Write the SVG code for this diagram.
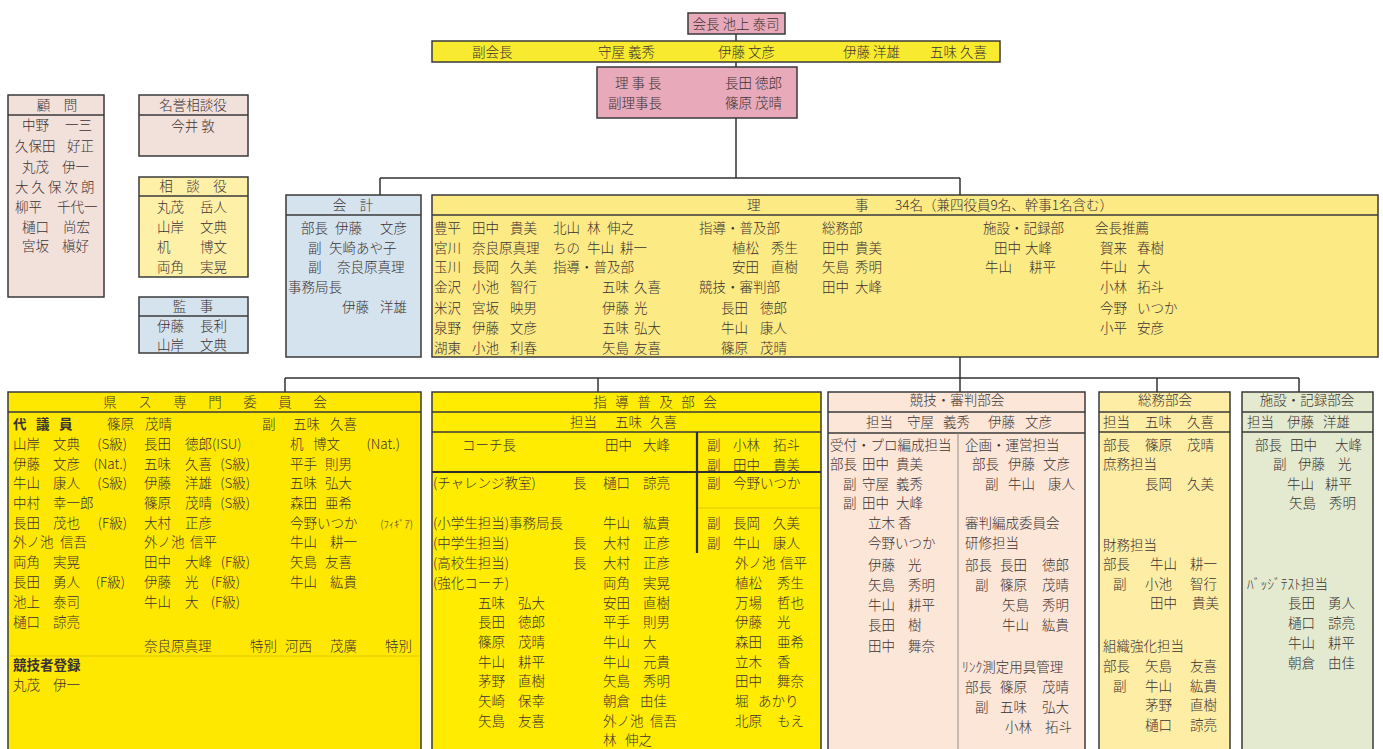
<svg xmlns="http://www.w3.org/2000/svg" width="1383" height="749" viewBox="0 0 1383 749">
<defs>
<style>
.t{font-family:"Noto Sans CJK JP","Noto Sans CJK SC",sans-serif;font-size:13.5px;font-weight:300;fill:#3b3232}
.c{text-anchor:middle}
.e{text-anchor:end}
.b{font-weight:bold}
.s{font-size:10.5px}
.box{stroke:#3a3a3a;stroke-width:1.5}
.ln{stroke:#3a3a3a;stroke-width:1.5;fill:none}
.thk{stroke:#2e2e2e;stroke-width:2.2;fill:none}
.fl{stroke:#c9b400;stroke-width:1;fill:none;opacity:.6}
.vd{stroke:#9a8c84;stroke-width:1;fill:none}
.conn{stroke:#333;stroke-width:1.5;fill:none}
</style>
</defs>
<rect width="1383" height="749" fill="#ffffff"/>

<g id="connectors" class="conn">
<path d="M736 34 V41 M736 62 V67 M736 118 V178 M380 178 H960 M380 178 V195 M960 178 V195 M960 357 V378 M285 378 H1299 M285 378 V392 M598 378 V392 M960 378 V392 M1157 378 V392 M1299 378 V392"/>
</g>

<g id="kaicho">
<rect class="box" x="688" y="13" width="97" height="21" fill="#E8A9BA"/>
<text class="t c" x="736" y="29">会長 池上 泰司</text>
</g>

<g id="fukukaicho">
<rect class="box" x="432" y="41" width="568" height="21" fill="#F8EA2E"/>
<text class="t" y="57"><tspan x="472">副会長</tspan><tspan x="598">守屋 義秀</tspan><tspan x="718">伊藤 文彦</tspan><tspan x="843">伊藤 洋雄</tspan><tspan x="930">五味 久喜</tspan></text>
</g>

<g id="rijicho">
<rect class="box" x="597" y="67" width="200" height="51" fill="#E8A9BA"/>
<text class="t" y="88"><tspan x="615">理 事 長</tspan><tspan x="725">長田 徳郎</tspan></text>
<text class="t" y="108"><tspan x="608">副理事長</tspan><tspan x="725">篠原 茂晴</tspan></text>
</g>

<g id="komon">
<rect class="box" x="8" y="95" width="96" height="202" fill="#F2E0DA"/>
<line class="ln" x1="8" y1="115" x2="104" y2="115"/>
<text class="t c" x="57" y="110">顧　問</text>
<text class="t" y="130"><tspan x="22">中野</tspan><tspan x="65">一三</tspan></text>
<text class="t" y="151"><tspan x="15">久保田</tspan><tspan x="67">好正</tspan></text>
<text class="t" y="172"><tspan x="22">丸茂</tspan><tspan x="62">伊一</tspan></text>
<text class="t" y="192" x="15" letter-spacing="3">大久保次朗</text>
<text class="t" y="212"><tspan x="15">柳平</tspan><tspan x="57">千代一</tspan></text>
<text class="t" y="232"><tspan x="22">樋口</tspan><tspan x="63">尚宏</tspan></text>
<text class="t" y="251"><tspan x="22">宮坂</tspan><tspan x="62">槇好</tspan></text>
</g>

<g id="meiyo">
<rect class="box" x="139" y="95" width="109" height="61" fill="#F2E0DA"/>
<line class="ln" x1="139" y1="115" x2="248" y2="115"/>
<text class="t c" x="193" y="110">名誉相談役</text>
<text class="t c" x="193" y="131">今井 敦</text>
</g>

<g id="sodanyaku">
<rect class="box" x="139" y="177" width="109" height="100" fill="#FFF0A8"/>
<line class="ln" x1="139" y1="196" x2="248" y2="196"/>
<text class="t c" x="193" y="191">相　談　役</text>
<text class="t" y="212"><tspan x="157">丸茂</tspan><tspan x="200">岳人</tspan></text>
<text class="t" y="232"><tspan x="157">山岸</tspan><tspan x="200">文典</tspan></text>
<text class="t" y="252"><tspan x="157">机</tspan><tspan x="200">博文</tspan></text>
<text class="t" y="272"><tspan x="157">両角</tspan><tspan x="200">実晃</tspan></text>
</g>

<g id="kanji">
<rect class="box" x="139" y="297" width="109" height="56" fill="#D5E3EE"/>
<line class="ln" x1="139" y1="316" x2="248" y2="316"/>
<text class="t c" x="193" y="311">監　事</text>
<text class="t" y="331"><tspan x="157">伊藤</tspan><tspan x="200">長利</tspan></text>
<text class="t" y="350"><tspan x="157">山岸</tspan><tspan x="200">文典</tspan></text>
</g>

<g id="kaikei">
<rect class="box" x="286" y="195" width="135" height="162" fill="#D5E3EE"/>
<line class="ln" x1="286" y1="215" x2="421" y2="215"/>
<text class="t c" x="353" y="210">会　計</text>
<text class="t" y="233"><tspan x="301">部長</tspan><tspan x="335">伊藤</tspan><tspan x="380">文彦</tspan></text>
<text class="t" y="253"><tspan x="308">副</tspan><tspan x="329">矢崎あや子</tspan></text>
<text class="t" y="272"><tspan x="308">副</tspan><tspan x="337">奈良原真理</tspan></text>
<text class="t" y="292" x="288">事務局長</text>
<text class="t" y="312"><tspan x="342">伊藤</tspan><tspan x="380">洋雄</tspan></text>
</g>

<g id="riji">
<rect class="box" x="432" y="195" width="946" height="162" fill="#FCEA85"/>
<line class="ln" x1="432" y1="215" x2="1378" y2="215"/>
<text class="t" y="210"><tspan x="747">理</tspan><tspan x="855">事</tspan><tspan x="895">34名（兼四役員9名、幹事1名含む）</tspan></text>
<text class="t" y="233"><tspan x="434">豊平</tspan><tspan x="472">田中</tspan><tspan x="510">貴美</tspan><tspan x="553">北山</tspan><tspan x="587">林</tspan><tspan x="607">伸之</tspan><tspan x="699">指導・普及部</tspan><tspan x="822">総務部</tspan><tspan x="983">施設・記録部</tspan><tspan x="1095">会長推薦</tspan></text>
<text class="t" y="253"><tspan x="434">宮川</tspan><tspan x="472">奈良原真理</tspan><tspan x="553">ちの</tspan><tspan x="587">牛山</tspan><tspan x="620">耕一</tspan><tspan x="732">植松</tspan><tspan x="771">秀生</tspan><tspan x="822">田中</tspan><tspan x="855">貴美</tspan><tspan x="994">田中</tspan><tspan x="1025">大峰</tspan><tspan x="1100">賀来</tspan><tspan x="1137">春樹</tspan></text>
<text class="t" y="272"><tspan x="434">玉川</tspan><tspan x="472">長岡</tspan><tspan x="510">久美</tspan><tspan x="553">指導・普及部</tspan><tspan x="732">安田</tspan><tspan x="771">直樹</tspan><tspan x="822">矢島</tspan><tspan x="855">秀明</tspan><tspan x="985">牛山</tspan><tspan x="1029">耕平</tspan><tspan x="1100">牛山</tspan><tspan x="1137">大</tspan></text>
<text class="t" y="292"><tspan x="434">金沢</tspan><tspan x="472">小池</tspan><tspan x="510">智行</tspan><tspan x="602">五味</tspan><tspan x="634">久喜</tspan><tspan x="699">競技・審判部</tspan><tspan x="822">田中</tspan><tspan x="855">大峰</tspan><tspan x="1100">小林</tspan><tspan x="1137">拓斗</tspan></text>
<text class="t" y="313"><tspan x="434">米沢</tspan><tspan x="472">宮坂</tspan><tspan x="510">映男</tspan><tspan x="602">伊藤</tspan><tspan x="634">光</tspan><tspan x="721">長田</tspan><tspan x="760">徳郎</tspan><tspan x="1100">今野</tspan><tspan x="1137">いつか</tspan></text>
<text class="t" y="333"><tspan x="434">泉野</tspan><tspan x="472">伊藤</tspan><tspan x="510">文彦</tspan><tspan x="602">五味</tspan><tspan x="634">弘大</tspan><tspan x="721">牛山</tspan><tspan x="760">康人</tspan><tspan x="1100">小平</tspan><tspan x="1137">安彦</tspan></text>
<text class="t" y="353"><tspan x="434">湖東</tspan><tspan x="472">小池</tspan><tspan x="510">利春</tspan><tspan x="602">矢島</tspan><tspan x="634">友喜</tspan><tspan x="721">篠原</tspan><tspan x="760">茂晴</tspan></text>
</g>

<g id="kensu">
<rect class="box" x="8" y="392" width="413" height="380" fill="#FFE800"/>
<line class="ln" x1="8" y1="412" x2="421" y2="412"/>
<text class="t c" y="407" x="110 145 180 215 250 285 320">県ス専門委員会</text>
<text class="t b" y="429" x="13 36 59">代議員</text>
<text class="t" y="429"><tspan x="107">篠原</tspan><tspan x="145">茂晴</tspan><tspan x="262">副</tspan><tspan x="293">五味</tspan><tspan x="330">久喜</tspan></text>
<text class="t" y="449"><tspan x="13">山岸</tspan><tspan x="53">文典</tspan><tspan x="144">長田</tspan><tspan x="185">徳郎(ISU)</tspan><tspan x="290">机</tspan><tspan x="313">博文</tspan></text>
<text class="t e" y="449"><tspan x="127">(S級)</tspan><tspan x="400">(Nat.)</tspan></text>
<text class="t" y="469"><tspan x="13">伊藤</tspan><tspan x="53">文彦</tspan><tspan x="144">五味</tspan><tspan x="185">久喜</tspan><tspan x="290">平手</tspan><tspan x="325">則男</tspan></text>
<text class="t e" y="469"><tspan x="127">(Nat.)</tspan><tspan x="250">(S級)</tspan></text>
<text class="t" y="488"><tspan x="13">牛山</tspan><tspan x="53">康人</tspan><tspan x="144">伊藤</tspan><tspan x="185">洋雄</tspan><tspan x="290">五味</tspan><tspan x="325">弘大</tspan></text>
<text class="t e" y="488"><tspan x="127">(S級)</tspan><tspan x="250">(S級)</tspan></text>
<text class="t" y="508"><tspan x="13">中村</tspan><tspan x="53">幸一郎</tspan><tspan x="144">篠原</tspan><tspan x="185">茂晴</tspan><tspan x="290">森田</tspan><tspan x="325">亜希</tspan></text>
<text class="t e" y="508" x="250">(S級)</text>
<text class="t" y="528"><tspan x="13">長田</tspan><tspan x="53">茂也</tspan><tspan x="144">大村</tspan><tspan x="185">正彦</tspan><tspan x="290">今野いつか</tspan></text>
<text class="t e" y="528" x="127">(F級)</text>
<text class="t s e" y="528" x="413">(ﾌｨｷﾞｱ)</text>
<text class="t" y="547"><tspan x="13">外ノ池</tspan><tspan x="60">信吾</tspan><tspan x="144">外ノ池</tspan><tspan x="190">信平</tspan><tspan x="290">牛山</tspan><tspan x="330">耕一</tspan></text>
<text class="t" y="567"><tspan x="13">両角</tspan><tspan x="53">実晃</tspan><tspan x="144">田中</tspan><tspan x="185">大峰</tspan><tspan x="290">矢島</tspan><tspan x="325">友喜</tspan></text>
<text class="t e" y="567" x="250">(F級)</text>
<text class="t" y="587"><tspan x="13">長田</tspan><tspan x="53">勇人</tspan><tspan x="144">伊藤</tspan><tspan x="185">光</tspan><tspan x="290">牛山</tspan><tspan x="330">紘貴</tspan></text>
<text class="t e" y="587"><tspan x="125">(F級)</tspan><tspan x="240">(F級)</tspan></text>
<text class="t" y="607"><tspan x="13">池上</tspan><tspan x="53">泰司</tspan><tspan x="144">牛山</tspan><tspan x="185">大</tspan></text>
<text class="t e" y="607" x="240">(F級)</text>
<text class="t" y="627"><tspan x="13">樋口</tspan><tspan x="53">諒亮</tspan></text>
<text class="t" y="651"><tspan x="144">奈良原真理</tspan><tspan x="250">特別</tspan><tspan x="285">河西</tspan><tspan x="330">茂廣</tspan><tspan x="385">特別</tspan></text>
<line class="fl" x1="10" y1="656" x2="419" y2="656"/>
<text class="t b" y="670" x="13">競技者登録</text>
<text class="t" y="690"><tspan x="13">丸茂</tspan><tspan x="53">伊一</tspan></text>
</g>

<g id="shido">
<rect class="box" x="432" y="392" width="389" height="380" fill="#FFEC00"/>
<line class="ln" x1="432" y1="412" x2="821" y2="412"/>
<line class="ln" x1="432" y1="432" x2="821" y2="432"/>
<line class="thk" x1="432" y1="472" x2="821" y2="472"/>
<line class="thk" x1="697" y1="432" x2="697" y2="553"/>
<line class="fl" x1="698" y1="508" x2="820" y2="508"/>
<text class="t c" y="407" x="600 622 644 666 688 710">指導普及部会</text>
<text class="t" y="427"><tspan x="570">担当</tspan><tspan x="615">五味</tspan><tspan x="650">久喜</tspan></text>
<text class="t" y="450"><tspan x="462">コーチ長</tspan><tspan x="605">田中</tspan><tspan x="643">大峰</tspan><tspan x="707">副</tspan><tspan x="733">小林</tspan><tspan x="773">拓斗</tspan></text>
<text class="t" y="470"><tspan x="707">副</tspan><tspan x="733">田中</tspan><tspan x="773">貴美</tspan></text>
<text class="t" y="488"><tspan x="433">(チャレンジ教室)</tspan><tspan x="573">長</tspan><tspan x="603">樋口</tspan><tspan x="643">諒亮</tspan><tspan x="707">副</tspan><tspan x="733">今野いつか</tspan></text>
<text class="t" y="528"><tspan x="433">(小学生担当)事務局長</tspan><tspan x="603">牛山</tspan><tspan x="643">紘貴</tspan><tspan x="707">副</tspan><tspan x="733">長岡</tspan><tspan x="773">久美</tspan></text>
<text class="t" y="548"><tspan x="433">(中学生担当)</tspan><tspan x="573">長</tspan><tspan x="603">大村</tspan><tspan x="643">正彦</tspan><tspan x="707">副</tspan><tspan x="733">牛山</tspan><tspan x="773">康人</tspan></text>
<text class="t" y="568"><tspan x="433">(高校生担当)</tspan><tspan x="573">長</tspan><tspan x="603">大村</tspan><tspan x="643">正彦</tspan><tspan x="735">外ノ池</tspan><tspan x="780">信平</tspan></text>
<text class="t" y="588"><tspan x="433">(強化コーチ)</tspan><tspan x="603">両角</tspan><tspan x="643">実晃</tspan><tspan x="735">植松</tspan><tspan x="777">秀生</tspan></text>
<text class="t" y="608"><tspan x="478">五味</tspan><tspan x="518">弘大</tspan><tspan x="603">安田</tspan><tspan x="643">直樹</tspan><tspan x="735">万場</tspan><tspan x="777">哲也</tspan></text>
<text class="t" y="627"><tspan x="478">長田</tspan><tspan x="518">徳郎</tspan><tspan x="603">平手</tspan><tspan x="643">則男</tspan><tspan x="735">伊藤</tspan><tspan x="777">光</tspan></text>
<text class="t" y="647"><tspan x="478">篠原</tspan><tspan x="518">茂晴</tspan><tspan x="603">牛山</tspan><tspan x="643">大</tspan><tspan x="735">森田</tspan><tspan x="777">亜希</tspan></text>
<text class="t" y="667"><tspan x="478">牛山</tspan><tspan x="518">耕平</tspan><tspan x="603">牛山</tspan><tspan x="643">元貴</tspan><tspan x="735">立木</tspan><tspan x="777">香</tspan></text>
<text class="t" y="686"><tspan x="478">茅野</tspan><tspan x="518">直樹</tspan><tspan x="603">矢島</tspan><tspan x="643">秀明</tspan><tspan x="735">田中</tspan><tspan x="777">舞奈</tspan></text>
<text class="t" y="706"><tspan x="478">矢崎</tspan><tspan x="518">保幸</tspan><tspan x="603">朝倉</tspan><tspan x="640">由佳</tspan><tspan x="735">堀</tspan><tspan x="758">あかり</tspan></text>
<text class="t" y="726"><tspan x="478">矢島</tspan><tspan x="518">友喜</tspan><tspan x="603">外ノ池</tspan><tspan x="650">信吾</tspan><tspan x="735">北原</tspan><tspan x="777">もえ</tspan></text>
<text class="t" y="745"><tspan x="603">林</tspan><tspan x="625">伸之</tspan></text>
</g>

<g id="kyogi">
<rect class="box" x="828" y="392" width="257" height="380" fill="#FBE6D8"/>
<line class="ln" x1="828" y1="412" x2="1085" y2="412"/>
<line class="ln" x1="828" y1="433" x2="1085" y2="433"/>
<line class="vd" x1="958" y1="433" x2="958" y2="749"/>
<text class="t c" x="957" y="405">競技・審判部会</text>
<text class="t" y="427"><tspan x="866">担当</tspan><tspan x="907">守屋</tspan><tspan x="943">義秀</tspan><tspan x="988">伊藤</tspan><tspan x="1025">文彦</tspan></text>
<text class="t" y="450" x="830">受付・プロ編成担当</text>
<text class="t" y="469"><tspan x="830">部長</tspan><tspan x="862">田中</tspan><tspan x="896">貴美</tspan></text>
<text class="t" y="489"><tspan x="843">副</tspan><tspan x="862">守屋</tspan><tspan x="896">義秀</tspan></text>
<text class="t" y="508"><tspan x="843">副</tspan><tspan x="862">田中</tspan><tspan x="896">大峰</tspan></text>
<text class="t" y="528"><tspan x="868">立木</tspan><tspan x="898">香</tspan></text>
<text class="t" y="548" x="868">今野いつか</text>
<text class="t" y="570"><tspan x="868">伊藤</tspan><tspan x="908">光</tspan></text>
<text class="t" y="590"><tspan x="868">矢島</tspan><tspan x="908">秀明</tspan></text>
<text class="t" y="610"><tspan x="868">牛山</tspan><tspan x="908">耕平</tspan></text>
<text class="t" y="630"><tspan x="868">長田</tspan><tspan x="908">樹</tspan></text>
<text class="t" y="651"><tspan x="868">田中</tspan><tspan x="908">舞奈</tspan></text>
<text class="t" y="450" x="965">企画・運営担当</text>
<text class="t" y="469"><tspan x="972">部長</tspan><tspan x="1008">伊藤</tspan><tspan x="1043">文彦</tspan></text>
<text class="t" y="489"><tspan x="985">副</tspan><tspan x="1008">牛山</tspan><tspan x="1048">康人</tspan></text>
<text class="t" y="528" x="965">審判編成委員会</text>
<text class="t" y="548" x="965">研修担当</text>
<text class="t" y="570"><tspan x="965">部長</tspan><tspan x="1000">長田</tspan><tspan x="1042">徳郎</tspan></text>
<text class="t" y="590"><tspan x="975">副</tspan><tspan x="1000">篠原</tspan><tspan x="1042">茂晴</tspan></text>
<text class="t" y="610"><tspan x="1002">矢島</tspan><tspan x="1042">秀明</tspan></text>
<text class="t" y="630"><tspan x="1002">牛山</tspan><tspan x="1042">紘貴</tspan></text>
<text class="t" y="672" x="962">ﾘﾝｸ測定用具管理</text>
<text class="t" y="692"><tspan x="965">部長</tspan><tspan x="1000">篠原</tspan><tspan x="1042">茂晴</tspan></text>
<text class="t" y="712"><tspan x="975">副</tspan><tspan x="1000">五味</tspan><tspan x="1042">弘大</tspan></text>
<text class="t" y="732"><tspan x="1005">小林</tspan><tspan x="1045">拓斗</tspan></text>
</g>

<g id="somu">
<rect class="box" x="1099" y="392" width="131" height="380" fill="#FEEDA5"/>
<line class="ln" x1="1099" y1="412" x2="1230" y2="412"/>
<line class="ln" x1="1099" y1="432" x2="1230" y2="432"/>
<text class="t c" x="1165" y="405">総務部会</text>
<text class="t" y="427"><tspan x="1103">担当</tspan><tspan x="1145">五味</tspan><tspan x="1187">久喜</tspan></text>
<text class="t" y="450"><tspan x="1103">部長</tspan><tspan x="1145">篠原</tspan><tspan x="1187">茂晴</tspan></text>
<text class="t" y="469" x="1103">庶務担当</text>
<text class="t" y="489"><tspan x="1145">長岡</tspan><tspan x="1187">久美</tspan></text>
<text class="t" y="550" x="1103">財務担当</text>
<text class="t" y="569"><tspan x="1103">部長</tspan><tspan x="1150">牛山</tspan><tspan x="1190">耕一</tspan></text>
<text class="t" y="589"><tspan x="1113">副</tspan><tspan x="1145">小池</tspan><tspan x="1190">智行</tspan></text>
<text class="t" y="608"><tspan x="1150">田中</tspan><tspan x="1192">貴美</tspan></text>
<text class="t" y="651" x="1103">組織強化担当</text>
<text class="t" y="671"><tspan x="1103">部長</tspan><tspan x="1145">矢島</tspan><tspan x="1190">友喜</tspan></text>
<text class="t" y="691"><tspan x="1113">副</tspan><tspan x="1145">牛山</tspan><tspan x="1190">紘貴</tspan></text>
<text class="t" y="710"><tspan x="1145">茅野</tspan><tspan x="1190">直樹</tspan></text>
<text class="t" y="730"><tspan x="1145">樋口</tspan><tspan x="1190">諒亮</tspan></text>
</g>

<g id="shisetsu">
<rect class="box" x="1242" y="392" width="131" height="380" fill="#E3EACF"/>
<line class="ln" x1="1242" y1="412" x2="1373" y2="412"/>
<line class="ln" x1="1242" y1="432" x2="1373" y2="432"/>
<text class="t c" x="1307" y="405">施設・記録部会</text>
<text class="t" y="427"><tspan x="1247">担当</tspan><tspan x="1287">伊藤</tspan><tspan x="1323">洋雄</tspan></text>
<text class="t" y="450"><tspan x="1255">部長</tspan><tspan x="1290">田中</tspan><tspan x="1335">大峰</tspan></text>
<text class="t" y="469"><tspan x="1273">副</tspan><tspan x="1298">伊藤</tspan><tspan x="1338">光</tspan></text>
<text class="t" y="489"><tspan x="1287">牛山</tspan><tspan x="1325">耕平</tspan></text>
<text class="t" y="508"><tspan x="1289">矢島</tspan><tspan x="1329">秀明</tspan></text>
<text class="t" y="589" x="1247">ﾊﾞｯｼﾞﾃｽﾄ担当</text>
<text class="t" y="608"><tspan x="1288">長田</tspan><tspan x="1328">勇人</tspan></text>
<text class="t" y="628"><tspan x="1288">樋口</tspan><tspan x="1328">諒亮</tspan></text>
<text class="t" y="648"><tspan x="1288">牛山</tspan><tspan x="1328">耕平</tspan></text>
<text class="t" y="668"><tspan x="1288">朝倉</tspan><tspan x="1328">由佳</tspan></text>
</g>
</svg>
